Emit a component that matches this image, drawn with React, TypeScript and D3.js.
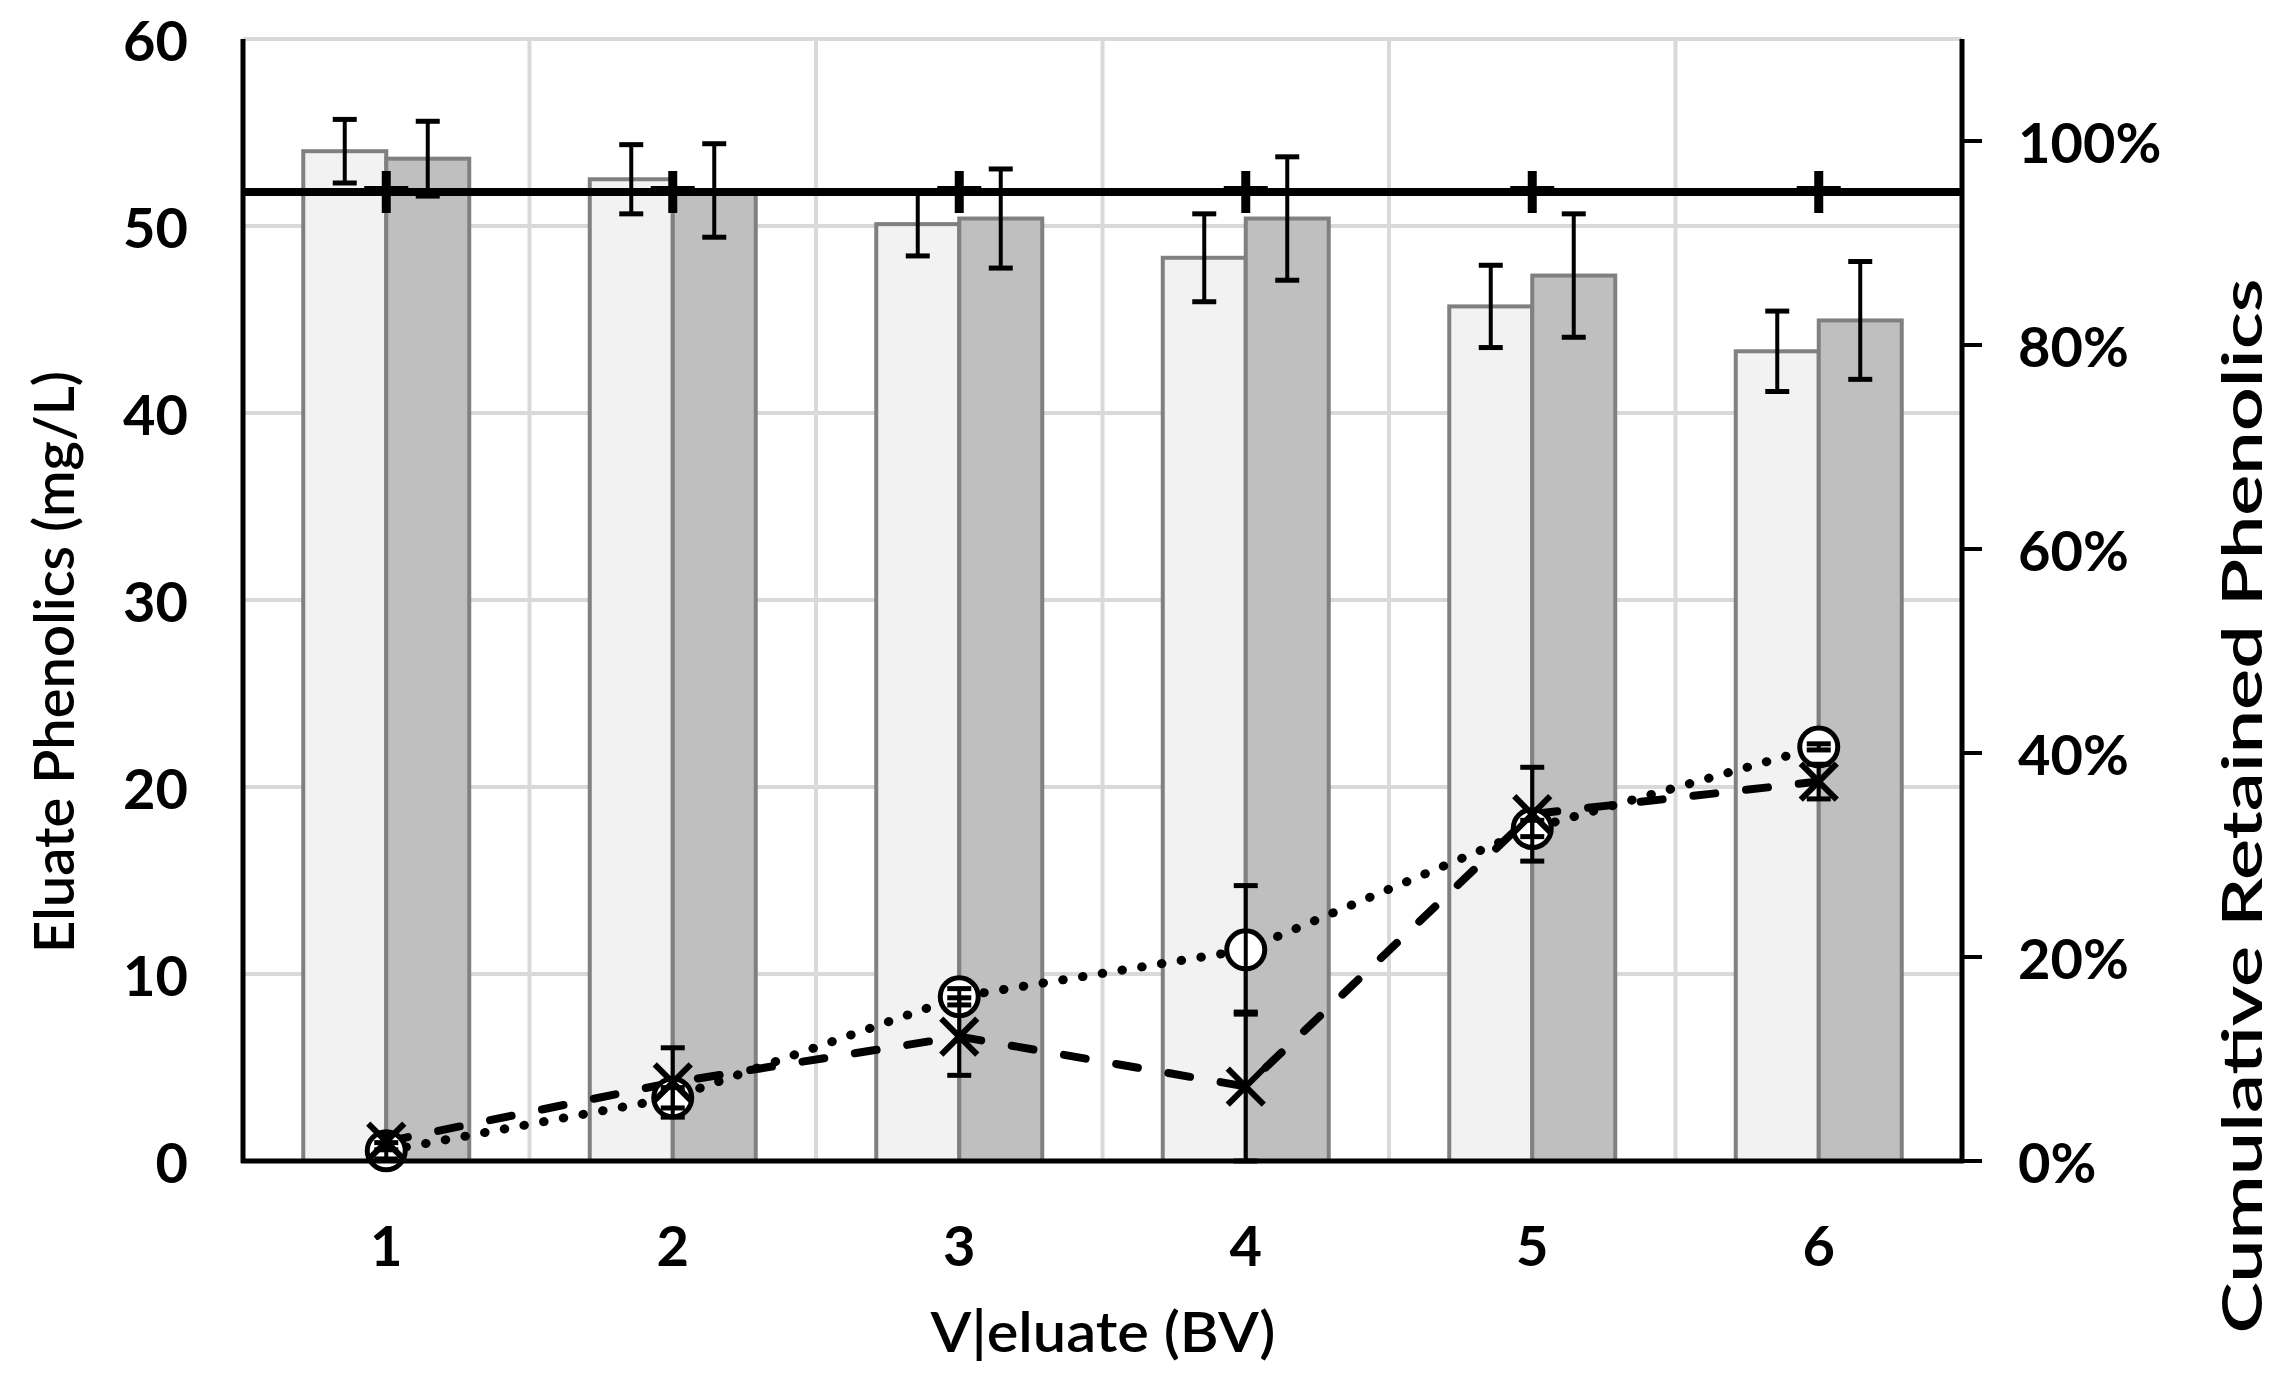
import React from "react";
import * as d3 from "d3";

// ---- data ----
const categories = ["1", "2", "3", "4", "5", "6"];
const lightBar = [54.0, 52.5, 50.1, 48.3, 45.7, 43.3];
const lightErr = [1.7, 1.85, 1.7, 2.35, 2.2, 2.15];
const darkBar = [53.6, 51.9, 50.4, 50.4, 47.35, 44.95];
const darkErr = [2.0, 2.5, 2.65, 3.3, 3.3, 3.15];
const circlePct = [1.0, 6.2, 16.1, 20.7, 32.6, 40.6];
const circleErr = [0.8, 1.0, 0.8, 6.3, 0.8, 0.3];
const crossPct = [1.9, 7.7, 12.2, 7.3, 34.0, 37.2];
const crossErr = [0.8, 3.4, 3.8, 7.3, 4.6, 1.7];
const refPct = [95, 95, 95, 95, 95, 95];
const leftTicks = [0, 10, 20, 30, 40, 50, 60];
const rightTicks = [0, 20, 40, 60, 80, 100];
const xTitle = "V|eluate (BV)";
const leftTitle = "Eluate Phenolics (mg/L)";
const rightTitle = "Cumulative Retained Phenolics";

const W = 2282;
const H = 1383;
const L = 243, R = 1962, T = 39, B = 1161;
const FONT = "Lato, 'Open Sans', sans-serif";

export default function App() {
  const x = d3.scaleBand<string>().domain(categories).range([L, R]).paddingInner(0).paddingOuter(0);
  const sub = d3.scaleBand<string>().domain(["a", "b"]).range([0, x.bandwidth()]).paddingInner(0).paddingOuter(0.726);
  const yL = d3.scaleLinear().domain([0, 60]).range([B, T]);
  const yR = d3.scaleLinear().domain([0, 110]).range([B, T]);
  const cx = (i: number) => (x(categories[i]) as number) + x.bandwidth() / 2;

  const lineGen = d3.line<number>().x((_, i) => cx(i)).y((d) => yR(d));

  const errBar = (xc: number, y0: number, y1: number, key: string, capW = 24) => (
    <g key={key}>
      <line x1={xc} x2={xc} y1={y0} y2={y1} stroke="#000" strokeWidth={4} />
      <line x1={xc - capW / 2} x2={xc + capW / 2} y1={y0} y2={y0} stroke="#000" strokeWidth={5} />
      <line x1={xc - capW / 2} x2={xc + capW / 2} y1={y1} y2={y1} stroke="#000" strokeWidth={5} />
    </g>
  );

  const vBounds = categories.map((c) => x(c) as number).concat([R]);

  return (
    <svg width={W} height={H} style={{ position: "absolute", left: 0, top: 0, background: "#fff" }}>
      <rect x={0} y={0} width={W} height={H} fill="#fff" />
      {/* gridlines */}
      {leftTicks.map((t) => (
        <line key={"hg" + t} x1={L} x2={R} y1={yL(t)} y2={yL(t)} stroke="#d9d9d9" strokeWidth={4} />
      ))}
      {vBounds.map((v, i) => (
        <line key={"vg" + i} x1={v} x2={v} y1={T} y2={B} stroke="#d9d9d9" strokeWidth={4} />
      ))}
      {/* bars */}
      {categories.map((c, i) => {
        const x0 = (x(c) as number) + (sub("a") as number);
        const x1 = (x(c) as number) + (sub("b") as number);
        const bw = sub.bandwidth();
        return (
          <g key={"bar" + c}>
            <rect x={x0} y={yL(lightBar[i])} width={bw} height={B - yL(lightBar[i])} fill="#f2f2f2" stroke="#808080" strokeWidth={4} />
            <rect x={x1} y={yL(darkBar[i])} width={bw} height={B - yL(darkBar[i])} fill="#bfbfbf" stroke="#808080" strokeWidth={4} />
          </g>
        );
      })}
      {categories.map((c, i) => {
        const x0 = (x(c) as number) + (sub("a") as number) + sub.bandwidth() / 2;
        const x1 = (x(c) as number) + (sub("b") as number) + sub.bandwidth() / 2;
        return (
          <g key={"be" + c}>
            {errBar(x0, yL(lightBar[i] + lightErr[i]), yL(lightBar[i] - lightErr[i]), "le" + c)}
            {errBar(x1, yL(darkBar[i] + darkErr[i]), yL(darkBar[i] - darkErr[i]), "de" + c)}
          </g>
        );
      })}
      {/* axes */}
      <line x1={L} x2={L} y1={T} y2={B + 2} stroke="#000" strokeWidth={5} />
      <line x1={R} x2={R} y1={T} y2={B + 2} stroke="#000" strokeWidth={5} />
      {rightTicks.map((t) => (
        <line key={"rt" + t} x1={R} x2={R + 20} y1={yR(t)} y2={yR(t)} stroke="#000" strokeWidth={4} />
      ))}
      {/* reference line */}
      <line x1={L} x2={R} y1={yR(refPct[0])} y2={yR(refPct[0])} stroke="#000" strokeWidth={8} />
      {refPct.map((v, i) => (
        <g key={"plus" + i}>
          <rect x={cx(i) - 4.5} y={yR(v) - 21} width={9} height={42} fill="#000" />
          <rect x={cx(i) - 22} y={yR(v) - 6} width={44} height={10} fill="#000" />
        </g>
      ))}
      {/* line series */}
      <path d={lineGen(crossPct) || ""} fill="none" stroke="#000" strokeWidth={8} strokeLinecap="round" strokeDasharray="22 31" />
      <path d={lineGen(circlePct) || ""} fill="none" stroke="#000" strokeWidth={9} strokeLinecap="round" strokeDasharray="0.5 19.5" />
      {circlePct.map((v, i) => (
        <circle key={"c" + i} cx={cx(i)} cy={yR(v)} r={19} fill="#fff" stroke="#000" strokeWidth={5} />
      ))}
      {crossPct.map((v, i) => (
        <g key={"x" + i} stroke="#000" strokeWidth={6}>
          <line x1={cx(i) - 18} x2={cx(i) + 18} y1={yR(v) - 18} y2={yR(v) + 18} />
          <line x1={cx(i) - 18} x2={cx(i) + 18} y1={yR(v) + 18} y2={yR(v) - 18} />
        </g>
      ))}
      {circlePct.map((v, i) => errBar(cx(i), yR(v + circleErr[i]), yR(Math.max(0, v - circleErr[i])), "ce" + i))}
      {crossPct.map((v, i) => errBar(cx(i), yR(v + crossErr[i]), yR(Math.max(0, v - crossErr[i])), "xe" + i))}
      <line x1={L - 2} x2={R + 2} y1={B} y2={B} stroke="#000" strokeWidth={5} />
      {/* tick labels */}
      <g fontFamily={FONT} fontWeight={700} fontSize={56} fill="#000">
        {leftTicks.map((t) => (
          <text key={"lt" + t} x={188} y={yL(t)} textAnchor="end" dominantBaseline="central">{t}</text>
        ))}
        {rightTicks.map((t) => (
          <text key={"rl" + t} x={2018} y={yR(t)} textAnchor="start" dominantBaseline="central">{t + "%"}</text>
        ))}
        {categories.map((c, i) => (
          <text key={"xl" + c} x={cx(i)} y={1244} textAnchor="middle" dominantBaseline="central">{c}</text>
        ))}
      </g>
      {/* titles */}
      <g fontFamily={FONT} fontWeight={600} fontSize={55} fill="#000">
        <text x={1103} y={1352} textAnchor="middle" textLength={345} lengthAdjust="spacingAndGlyphs">{xTitle}</text>
        <text transform="translate(74,662) rotate(-90)" textAnchor="middle" textLength={582} lengthAdjust="spacingAndGlyphs">{leftTitle}</text>
        <text transform="translate(2262,806) rotate(-90)" textAnchor="middle" textLength={1055} lengthAdjust="spacingAndGlyphs">{rightTitle}</text>
      </g>
    </svg>
  );
}
